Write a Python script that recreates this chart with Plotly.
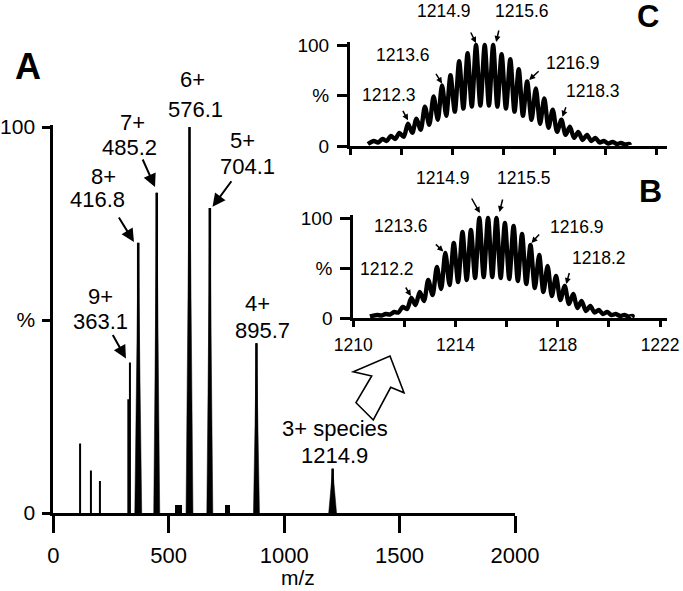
import plotly.graph_objects as go

W, H = 683, 591
FONT = "Liberation Sans, Arial, Helvetica, sans-serif"

# ---------------- data: main spectrum (panel A) ----------------
main_peak_mz = [116, 163, 202, 325, 332, 368, 448, 590, 678, 880, 1210]
main_peak_int = [18, 11, 8.3, 29.5, 39, 70, 83, 100, 79, 44, 11.5]
main_bump_mz = [542, 754]
main_bump_int = [2.2, 2.2]

main_xticks = [0, 500, 1000, 1500, 2000]
pct_ticks = [0, 50, 100]
pct_ticktext = ["0", "%", "100"]

# ---------------- data: isotope envelopes (panels B, C) ----------------
iso_mz = [1210.93, 1211.27, 1211.60, 1211.93, 1212.27, 1212.60, 1212.93, 1213.27,
          1213.60, 1213.93, 1214.27, 1214.60, 1214.93, 1215.27, 1215.60, 1215.93,
          1216.27, 1216.60, 1216.93, 1217.27, 1217.60, 1217.93, 1218.27, 1218.60,
          1218.93, 1219.27, 1219.60, 1219.93, 1220.27, 1220.60, 1220.93]
c_peak = [5, 7, 10, 13, 22, 27, 39, 49, 60, 70, 84, 92, 100, 100, 100, 91,
          86, 76, 64, 57, 47, 36, 26, 19, 14, 11, 8, 5, 4, 3, 2]
c_valley = [3.5, 5, 7, 9, 13, 16, 21, 26, 30, 34, 37, 39, 40, 40, 39,
            37, 34, 30, 26, 22, 18, 14, 11, 8, 6, 5, 3.5, 2.5, 2, 1.5]
c_ends = [(1210.70, 2), (1220.95, 1)]
b_peak = [3, 4, 6, 11, 20, 26, 38, 51, 65, 75, 86, 88, 100, 100, 100, 95,
          92, 84, 73, 63, 52, 42, 32, 24, 17, 12, 8, 6, 4, 3, 2]
b_valley = [2.5, 3.5, 5.5, 9, 13, 17, 23, 29, 33, 36, 38, 40, 41, 41, 40,
            39, 37, 34, 30, 26, 22, 18, 14, 10, 7, 5.5, 4, 3, 2, 1.5]
b_ends = [(1210.65, 1.5), (1220.9, 1)]

inset_xticks = [1210, 1212, 1214, 1216, 1218, 1220, 1222]
inset_xticktext = ["1210", "", "1214", "", "1218", "", "1222"]

# ---------------- styles ----------------
base_half_width = [0, 0, 0, 0, 0, 15, 13, 15, 13, 13, 17]  # m/z units
stick_width = [2, 2, 2, 2, 2, 2.6, 2.6, 2.6, 2.6, 2.6, 2.6]


def pp(x, y):
    return x / W, 1 - y / H


fig = go.Figure()

# main sticks
for lw in sorted(set(stick_width)):
    xs, ys = [], []
    for m, h, w in zip(main_peak_mz, main_peak_int, stick_width):
        if w == lw:
            xs += [m, m, None]
            ys += [0, h, None]
    fig.add_trace(go.Scatter(x=xs, y=ys, mode="lines", line=dict(color="black", width=lw),
                             xaxis="x", yaxis="y", hoverinfo="skip"))
# broad bases
xs, ys = [], []
for m, h, bw in zip(main_peak_mz, main_peak_int, base_half_width):
    if bw > 0:
        xs += [m - bw, m, m + bw, None]
        ys += [0, h, 0, None]
fig.add_trace(go.Scatter(x=xs, y=ys, mode="lines", fill="toself", fillcolor="black",
                         line=dict(color="black", width=0.5), xaxis="x", yaxis="y", hoverinfo="skip"))
fig.add_trace(go.Bar(x=main_bump_mz, y=main_bump_int, width=[30, 22], marker=dict(color="black", line_width=0),
                     xaxis="x", yaxis="y", hoverinfo="skip"))


def envelope(peaks, valleys, ends):
    xs = [ends[0][0]]
    ys = [ends[0][1]]
    for i, (m, p) in enumerate(zip(iso_mz, peaks)):
        xs.append(m)
        ys.append(p)
        if i < len(valleys):
            xs.append((m + iso_mz[i + 1]) / 2)
            ys.append(valleys[i])
    xs.append(ends[1][0])
    ys.append(ends[1][1])
    return xs, ys


ENV_LINE = dict(color="black", width=4.4, shape="spline", smoothing=0.8)
cx, cy = envelope(c_peak, c_valley, c_ends)
fig.add_trace(go.Scatter(x=cx, y=cy, mode="lines", line=ENV_LINE, xaxis="x2", yaxis="y2", hoverinfo="skip"))
bx, by = envelope(b_peak, b_valley, b_ends)
fig.add_trace(go.Scatter(x=bx, y=by, mode="lines", line=ENV_LINE, xaxis="x3", yaxis="y3", hoverinfo="skip"))

axis_common = dict(showgrid=False, zeroline=False, showline=True, linecolor="black", automargin=False,
                   ticks="outside", tickcolor="black", fixedrange=True)

fig.update_layout(
    template="none",
    width=W, height=H, margin=dict(l=0, r=0, t=0, b=0, pad=0, autoexpand=False),
    paper_bgcolor="white", plot_bgcolor="rgba(0,0,0,0)", showlegend=False,
    font=dict(family=FONT, color="black"), bargap=0,
    xaxis=dict(**axis_common, domain=[53.3 / W, 515 / W], range=[0, 2000], anchor="y",
               tickvals=main_xticks, ticklen=17, tickwidth=3, linewidth=3,
               tickfont=dict(size=22), ticklabelstandoff=4),
    yaxis=dict(**axis_common, domain=[1 - 513 / H, 1 - 124.7 / H], range=[0, 100.6], anchor="x",
               tickvals=pct_ticks, ticktext=pct_ticktext, ticklen=8, tickwidth=3, linewidth=3,
               tickfont=dict(size=21), ticklabelstandoff=3),
    xaxis2=dict(**axis_common, domain=[350 / W, 667 / W], range=[1210, 1222.4], anchor="y2",
                tickvals=inset_xticks, ticktext=[""] * 7, ticklen=6, tickwidth=3, linewidth=3),
    yaxis2=dict(**axis_common, domain=[1 - 146 / H, 1 - 42 / H], range=[0, 103], anchor="x2",
                tickvals=pct_ticks, ticktext=pct_ticktext, ticklen=10, tickwidth=3, linewidth=3,
                tickfont=dict(size=19), ticklabelstandoff=4),
    xaxis3=dict(**axis_common, domain=[353.3 / W, 667 / W], range=[1210, 1222.27], anchor="y3",
                tickvals=inset_xticks, ticktext=inset_xticktext, ticklen=6, tickwidth=3, linewidth=3,
                tickfont=dict(size=17.5), ticklabelstandoff=3),
    yaxis3=dict(**axis_common, domain=[1 - 318 / H, 1 - 215 / H], range=[0, 103], anchor="x3",
                tickvals=pct_ticks, ticktext=pct_ticktext, ticklen=10, tickwidth=3, linewidth=3,
                tickfont=dict(size=19), ticklabelstandoff=4),
)

annotations = []


def text(t, x, y, size, bold=False):
    px, py = pp(x, y)
    annotations.append(dict(x=px, y=py, xref="paper", yref="paper", text=f"<b>{t}</b>" if bold else t,
                            showarrow=False, xanchor="center", yanchor="middle",
                            font=dict(size=size, family=FONT, color="black")))


# main labels
for t, x, y in [("6+", 192, 79.5), ("576.1", 195, 109.5), ("7+", 132.5, 122.5), ("485.2", 129, 147.5),
                ("5+", 242.5, 140.5), ("704.1", 247, 166), ("8+", 103.5, 176.5), ("416.8", 97.5, 199.5),
                ("9+", 100, 296), ("363.1", 100, 321), ("4+", 257.5, 303.5), ("895.7", 262, 330),
                ("3+ species", 335, 428.5), ("1214.9", 334, 455)]:
    text(t, x, y, 22)
text("m/z", 297.5, 577.5, 21)
text("A", 27.5, 66.5, 36, True)
text("C", 648, 16, 31, True)
text("B", 650, 191, 32, True)

for t, x, y in [("1214.9", 444, 11.5), ("1215.6", 522, 11.5), ("1213.6", 402.5, 55), ("1216.9", 572.5, 62.5),
                ("1212.3", 388.5, 95.5), ("1218.3", 592.5, 91.5),
                ("1214.9", 443.5, 178.5), ("1215.5", 524, 178.5), ("1213.6", 401, 225.5),
                ("1216.9", 576.5, 227.5), ("1212.2", 387.5, 268.5), ("1218.2", 599, 257.5)]:
    text(t, x, y, 17.5)


def arrow(xref, yref, x, y, dx, dy, ax, ay, width, size):
    annotations.append(dict(x=x, y=y, xref=xref, yref=yref, text="", showarrow=True,
                            xshift=dx, yshift=dy, ax=ax, ay=ay, arrowhead=2, arrowsize=size,
                            arrowwidth=width, arrowcolor="black", standoff=0))


# main arrows: (peak index, xshift, yshift, ax, ay)
for idx, dx, dy, ax, ay in [(6, -1.7, 5.6, -13, -29), (5, -4.3, 0.8, -16, -26),
                            (8, 2.7, 1.3, 20, -27), (4, -4, 4, -14, -25)]:
    arrow("x", "y", main_peak_mz[idx], main_peak_int[idx], dx, dy, ax, ay, 2, 1.3)

# inset C arrows
for i, dx, dy, ax, ay in [(12, 0, 2, -6, -12), (14, 3, 3, 3, -13), (8, 0, 2, -7, -11),
                          (18, 2, 1.5, 11, -10), (4, 0, 3.5, -6, -11), (22, 1, 3, 4, -11)]:
    arrow("x2", "y2", iso_mz[i], c_peak[i], dx, dy, ax, ay, 1.5, 0.8)
# inset B arrows
for i, dx, dy, ax, ay in [(12, 0.5, 5, -9, -16), (14, 3, 6, 3.5, -14), (8, -2, 1.5, -9, -8.5),
                          (18, 1, 2, 9, -10), (4, -0.5, 2, -6, -10), (22, 1.5, 2, 3.5, -12.5)]:
    arrow("x3", "y3", iso_mz[i], b_peak[i], dx, dy, ax, ay, 1.5, 0.8)

fig.update_layout(annotations=annotations)

# hollow arrow pointing from the 3+ species peak to the insets
pts = [(390, 356), (404, 392.7), (390.7, 387.3), (373.3, 420), (356, 402.7), (371.7, 376), (353.3, 371.7)]
path = "M " + " L ".join(f"{pp(x, y)[0]:.5f},{pp(x, y)[1]:.5f}" for x, y in pts) + " Z"
fig.add_shape(type="path", path=path, xref="paper", yref="paper",
              line=dict(color="black", width=1.6), fillcolor="white")

fig.write_html("out.html", config={"displayModeBar": False, "staticPlot": True},
               post_script="document.body.style.margin='0px';document.body.style.overflow='hidden';")
